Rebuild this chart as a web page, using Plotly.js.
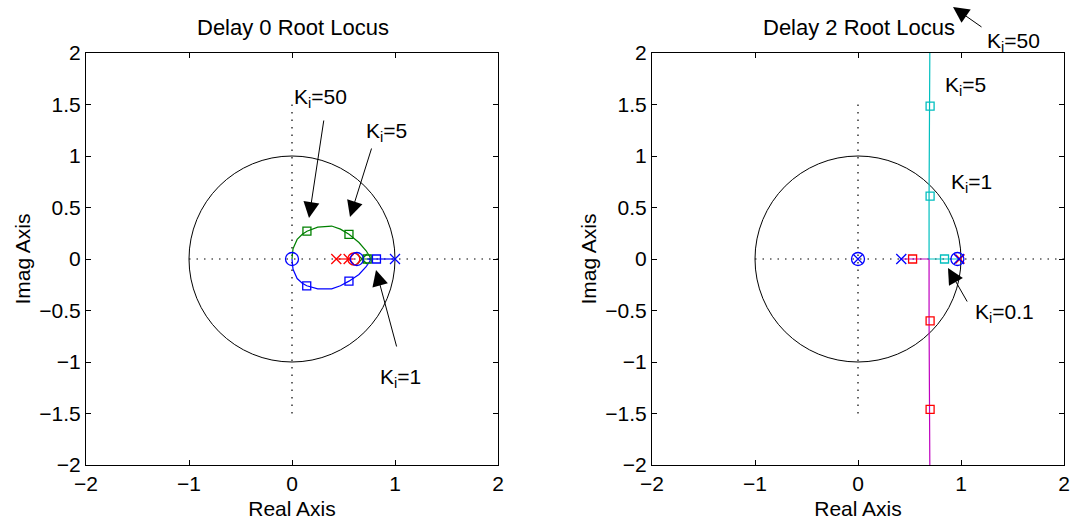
<!DOCTYPE html>
<html><head><meta charset="utf-8">
<script src="https://cdn.plot.ly/plotly-3.0.1.min.js"></script>
</head>
<body style="margin:0;background:#fff">
<div id="chart" style="width:1074px;height:527px"></div>
<script>
// ---------- data ----------
const plotTitles = ["Delay 0 Root Locus", "Delay 2 Root Locus"];
const xTickVals = [-2, -1, 0, 1, 2];
const yTickVals = [-2, -1.5, -1, -0.5, 0, 0.5, 1, 1.5, 2];

// Delay 0: upper (green) and lower (blue) complex branches
const d0UpperX = [0, 0.01, 0.05, 0.10, 0.145, 0.25, 0.385, 0.47, 0.553, 0.65, 0.72, 0.757, 0.76, 0.68];
const d0UpperY = [0, 0.10, 0.19, 0.24, 0.27, 0.31, 0.32, 0.29, 0.24, 0.16, 0.08, 0.02, 0, 0];
const d0LowerX = [0, 0.01, 0.05, 0.10, 0.143, 0.25, 0.385, 0.47, 0.553, 0.65, 0.72, 0.757, 0.76];
const d0LowerY = [0, -0.10, -0.19, -0.235, -0.26, -0.29, -0.29, -0.26, -0.215, -0.15, -0.075, -0.02, 0];
const d0BlueAxisX = [0.73, 1.0];
const d0RedAxisX = [0.43, 0.60];
const d0BlueZerosX = [0, 0.63];
const d0RedZerosX = [0.60];
const d0RedPolesX = [0.43, 0.55];
const d0GreenPolesX = [0.68];
const d0BluePolesX = [1.0];
const d0GreenSqX = [0.145, 0.553, 0.73];
const d0GreenSqY = [0.27, 0.24, 0];
const d0BlueSqX = [0.143, 0.553, 0.82];
const d0BlueSqY = [-0.26, -0.215, 0];

// Delay 2
const d2MagentaX = [0.42, 0.69, 0.69, 0.695, 0.70];
const d2MagentaY = [0, 0, -0.60, -1.46, -2.5];
const d2CyanX = [0.97, 0.84, 0.69, 0.69, 0.695, 0.70];
const d2CyanY = [0, 0, 0, 0.61, 1.485, 2.5];
const d2BlueZerosX = [0, 0.965];
const d2BluePolesX = [0, 0.42, 0.98];
const d2RedPolesX = [0.99];
const d2RedSqX = [0.53, 0.70, 0.70];
const d2RedSqY = [0, -0.60, -1.46];
const d2CyanSqX = [0.84, 0.70, 0.70];
const d2CyanSqY = [0, 0.61, 1.485];

// ---------- styles ----------
const GREEN = '#008000', BLUE = '#0000ff', RED = '#ff0000', CYAN = '#00bfbf', MAG = '#bf00bf';
const zeros = a => a.map(() => 0);
function line(x, y, color, xa, ya) {
  return {x, y, xaxis: xa, yaxis: ya, mode: 'lines', line: {color, width: 1.2}, hoverinfo: 'skip'};
}
function mk(x, y, color, symbol, size, xa, ya) {
  return {x, y, xaxis: xa, yaxis: ya, mode: 'markers', hoverinfo: 'skip', cliponaxis: false,
    marker: {symbol, size, color, line: {color, width: 1.3}}};
}

const traces = [
  line(d0UpperX, d0UpperY, GREEN, 'x', 'y'),
  line(d0LowerX, d0LowerY, BLUE, 'x', 'y'),
  line(d0BlueAxisX, zeros(d0BlueAxisX), BLUE, 'x', 'y'),
  line(d0RedAxisX, zeros(d0RedAxisX), RED, 'x', 'y'),
  mk(d0GreenSqX, d0GreenSqY, GREEN, 'square-open', 8, 'x', 'y'),
  mk(d0BlueSqX, d0BlueSqY, BLUE, 'square-open', 8, 'x', 'y'),
  mk(d0RedPolesX, zeros(d0RedPolesX), RED, 'x-thin-open', 10, 'x', 'y'),
  mk(d0GreenPolesX, zeros(d0GreenPolesX), GREEN, 'x-thin-open', 10, 'x', 'y'),
  mk(d0BluePolesX, zeros(d0BluePolesX), BLUE, 'x-thin-open', 10, 'x', 'y'),
  mk(d0RedZerosX, zeros(d0RedZerosX), RED, 'circle-open', 12, 'x', 'y'),
  mk(d0BlueZerosX, zeros(d0BlueZerosX), BLUE, 'circle-open', 13, 'x', 'y'),

  line(d2MagentaX, d2MagentaY, MAG, 'x2', 'y2'),
  line(d2CyanX, d2CyanY, CYAN, 'x2', 'y2'),
  mk(d2RedSqX, d2RedSqY, RED, 'square-open', 8, 'x2', 'y2'),
  mk(d2CyanSqX, d2CyanSqY, CYAN, 'square-open', 8, 'x2', 'y2'),
  mk(d2RedPolesX, zeros(d2RedPolesX), RED, 'x-thin-open', 9, 'x2', 'y2'),
  mk(d2BluePolesX, zeros(d2BluePolesX), BLUE, 'x-thin-open', 10, 'x2', 'y2'),
  mk(d2BlueZerosX, zeros(d2BlueZerosX), BLUE, 'circle-open', 13, 'x2', 'y2')
];

// ---------- layout ----------
const W = 1074, H = 527;
const px = v => v / W, py = v => 1 - v / H;
const FONT = 'Liberation Sans, Arial, Helvetica, sans-serif';
const FS = 21;

function xAxis(dom, anchor) {
  return {domain: dom, anchor, range: [-2, 2], tickvals: xTickVals, ticks: 'inside', ticklen: 5,
    tickcolor: '#000', showline: true, linecolor: '#000', linewidth: 1, mirror: 'ticks',
    showgrid: false, zeroline: false, fixedrange: true,
    tickfont: {family: FONT, size: FS, color: '#000'},
    title: {text: 'Real Axis', font: {family: FONT, size: FS, color: '#000'}, standoff: 7}};
}
function yAxis(dom, anchor) {
  return {domain: dom, anchor, range: [-2, 2], tickvals: yTickVals, ticks: 'inside', ticklen: 5,
    tickcolor: '#000', showline: true, linecolor: '#000', linewidth: 1, mirror: 'ticks',
    showgrid: false, zeroline: false, fixedrange: true,
    tickfont: {family: FONT, size: FS, color: '#000'},
    title: {text: 'Imag Axis', font: {family: FONT, size: FS, color: '#000'}, standoff: 2}};
}
const yDom = [(H - 465) / H, (H - 53) / H];

const DOT = '1.5px,6px';
function refShapes(xr, yr) {
  return [
    {type: 'circle', xref: xr, yref: yr, x0: -1, y0: -1, x1: 1, y1: 1, line: {color: '#000', width: 1}, layer: 'below'},
    {type: 'line', xref: xr, yref: yr, x0: -1, y0: 0, x1: 2, y1: 0, line: {color: '#000', width: 1.2, dash: DOT}, layer: 'below'},
    {type: 'line', xref: xr, yref: yr, x0: 0, y0: -1.5, x1: 0, y1: 1.5, line: {color: '#000', width: 1.2, dash: DOT}, layer: 'below'}
  ];
}

const tf = {family: FONT, size: FS, color: '#000'};
function label(x, y, text, size) {
  return {xref: 'paper', yref: 'paper', x: px(x), y: py(y), text, showarrow: false,
    font: Object.assign({}, tf, size ? {size} : {}), xanchor: 'center', yanchor: 'middle'};
}
function arrow(tipX, tipY, tailX, tailY) {
  return {xref: 'paper', yref: 'paper', x: px(tipX), y: py(tipY), text: '', showarrow: true,
    ax: tailX - tipX, ay: tailY - tipY, arrowhead: 2, arrowsize: 3.2, arrowwidth: 1, arrowcolor: '#000', standoff: 0};
}

const annotations = [
  label(293, 28, plotTitles[0], 22),
  label(859, 28, plotTitles[1], 22),
  label(320, 98, 'K<sub>i</sub>=50'), arrow(309, 218, 324, 119),
  label(386, 132, 'K<sub>i</sub>=5'), arrow(350, 217, 372, 147),
  label(400, 378, 'K<sub>i</sub>=1'), arrow(376, 270, 397, 348),
  label(1013, 42, 'K<sub>i</sub>=50'), arrow(953, 7, 983, 28),
  label(965, 86, 'K<sub>i</sub>=5'),
  label(971, 183, 'K<sub>i</sub>=1'),
  label(1004, 313, 'K<sub>i</sub>=0.1'), arrow(948, 268, 968, 303)
];

const layout = {
  width: W, height: H, margin: {l: 0, r: 0, t: 0, b: 0},
  paper_bgcolor: '#fff', plot_bgcolor: '#fff', showlegend: false,
  font: {family: FONT, color: '#000'},
  xaxis: xAxis([86 / W, 498 / W], 'y'),
  yaxis: yAxis(yDom, 'x'),
  xaxis2: xAxis([652 / W, 1064 / W], 'y2'),
  yaxis2: yAxis(yDom, 'x2'),
  shapes: refShapes('x', 'y').concat(refShapes('x2', 'y2')),
  annotations
};

Plotly.newPlot('chart', traces, layout, {displayModeBar: false, staticPlot: true});
</script>
</body></html>
